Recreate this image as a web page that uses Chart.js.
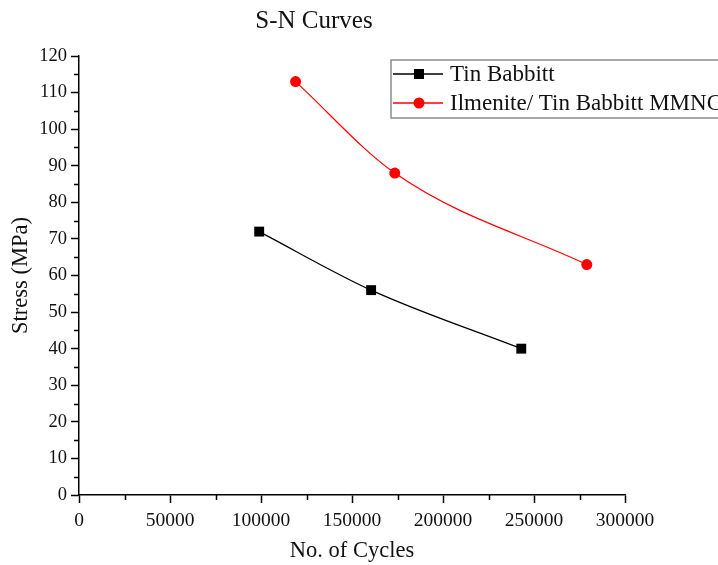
<!DOCTYPE html>
<html>
<head>
<meta charset="utf-8">
<script src="https://cdn.jsdelivr.net/npm/chart.js@4.4.1/dist/chart.umd.min.js"></script>
<style>
    html, body { margin: 0; padding: 0; background: #fff; overflow: hidden; }
    #wrap { width: 718px; height: 565px; }
</style>
</head>
<body>
<div id="wrap"><canvas id="snChart" width="718" height="565"></canvas></div>
<script>
// Values
const tinCycles = [99000, 160500, 243000];
const tinStress = [72, 56, 40];
const mmncCycles = [119000, 173500, 279000];
const mmncStress = [113, 88, 63];

const chartTitle = 'S-N Curves';
const xTitle = 'No. of Cycles';
const yTitle = 'Stress (MPa)';
const seriesNames = ['Tin Babbitt', 'Ilmenite/ Tin Babbitt MMNC'];

const FONT = "'Liberation Serif', 'Times New Roman', serif";

// Title, minor ticks and the boxed legend are drawn here
const extras = {
    id: 'extras',
    afterDraw(chart) {
        const ctx = chart.ctx;
        const x = chart.scales.x;
        const y = chart.scales.y;
        const area = chart.chartArea;
        ctx.save();

        // title
        ctx.fillStyle = '#111';
        ctx.font = '25px ' + FONT;
        ctx.textAlign = 'center';
        ctx.textBaseline = 'middle';
        ctx.fillText(chartTitle, 314, 21);

        // minor ticks
        ctx.strokeStyle = '#000';
        ctx.lineWidth = 1.5;
        ctx.beginPath();
        for (let v = 5; v < 120; v += 10) {
            const py = Math.round(y.getPixelForValue(v)) + 0.5;
            ctx.moveTo(area.left, py);
            ctx.lineTo(area.left - 5, py);
        }
        for (let v = 25000; v < 300000; v += 50000) {
            const px = Math.round(x.getPixelForValue(v)) + 0.5;
            ctx.moveTo(px, area.bottom);
            ctx.lineTo(px, area.bottom + 5);
        }
        ctx.stroke();

        // legend box
        const bx = 391, by = 60, bw = 340, bh = 58;
        ctx.strokeStyle = '#8c8c8c';
        ctx.lineWidth = 1.5;
        ctx.strokeRect(bx, by, bw, bh);
        ctx.font = '23px ' + FONT;
        ctx.textAlign = 'left';
        chart.data.datasets.forEach((ds, i) => {
            const ry = by + 14 + i * 29;
            ctx.strokeStyle = ds.borderColor;
            ctx.lineWidth = 1.3;
            ctx.beginPath();
            ctx.moveTo(bx + 2, ry);
            ctx.lineTo(bx + 52, ry);
            ctx.stroke();
            ctx.fillStyle = ds.backgroundColor;
            if (ds.pointStyle === 'rect') {
                ctx.fillRect(bx + 23, ry - 5, 10, 10);
            } else {
                ctx.beginPath();
                ctx.arc(bx + 28, ry, 5.5, 0, Math.PI * 2);
                ctx.fill();
            }
            ctx.fillStyle = '#111';
            ctx.fillText(ds.label, bx + 59, ry + 1);
        });
        ctx.restore();
    }
};

const axisBase = {
    type: 'linear',
    border: { display: true, color: '#000', width: 1.5 },
    grid: {
        drawOnChartArea: false,
        drawTicks: true,
        tickLength: 8,
        tickColor: '#000',
        tickWidth: 1.5
    }
};

new Chart(document.getElementById('snChart'), {
    type: 'line',
    data: {
        datasets: [
            {
                label: seriesNames[0],
                data: tinCycles.map((c, i) => ({ x: c, y: tinStress[i] })),
                borderColor: '#000',
                backgroundColor: '#000',
                borderWidth: 1.2,
                pointStyle: 'rect',
                pointRadius: 7,
                pointBorderWidth: 0,
                cubicInterpolationMode: 'monotone'
            },
            {
                label: seriesNames[1],
                data: mmncCycles.map((c, i) => ({ x: c, y: mmncStress[i] })),
                borderColor: '#ff0000',
                backgroundColor: '#ff0000',
                borderWidth: 1.2,
                pointStyle: 'circle',
                pointRadius: 5.5,
                pointBorderWidth: 0,
                cubicInterpolationMode: 'monotone'
            }
        ]
    },
    options: {
        responsive: false,
        animation: false,
        layout: { padding: { left: 0, top: 56, right: 93, bottom: 0 } },
        plugins: {
            legend: { display: false },
            title: { display: false },
            tooltip: { enabled: false }
        },
        scales: {
            x: {
                ...axisBase,
                min: 0,
                max: 300000,
                ticks: {
                    stepSize: 50000,
                    color: '#111',
                    padding: 6,
                    maxRotation: 0,
                    font: { family: FONT, size: 19.5 },
                    callback: v => String(v)
                },
                title: {
                    display: true,
                    text: xTitle,
                    color: '#111',
                    padding: { top: 0, bottom: 0 },
                    font: { family: FONT, size: 22.5 }
                },
                afterFit: s => { s.height = 70; }
            },
            y: {
                ...axisBase,
                min: 0,
                max: 120,
                ticks: {
                    stepSize: 10,
                    color: '#111',
                    padding: 4,
                    font: { family: FONT, size: 18.5 }
                },
                title: {
                    display: true,
                    text: yTitle,
                    color: '#111',
                    padding: { top: 8, bottom: 0 },
                    font: { family: FONT, size: 22.5 }
                },
                afterFit: s => { s.width = 79; }
            }
        }
    },
    plugins: [extras]
});
</script>
</body>
</html>
